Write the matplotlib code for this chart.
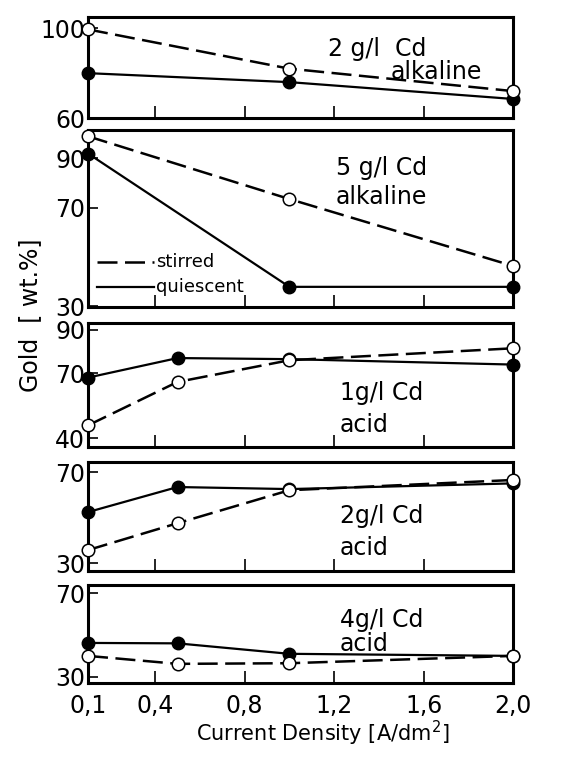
import matplotlib
matplotlib.use("Agg")
import matplotlib.pyplot as plt

# current density [A/dm2]
x = [0.1, 0.5, 1.0, 2.0]
x_2alk = [0.1, 1.0, 2.0]
x_5alk = [0.1, 1.0, 2.0]

# gold content [wt.%], open = stirred, filled = quiescent
stirred_2alk = [99.5, 82.0, 72.0]
quiet_2alk = [80.0, 76.0, 68.5]

stirred_5alk = [99.0, 73.5, 46.3]
quiet_5alk = [92.0, 37.8, 37.8]

stirred_1acid = [46.0, 66.0, 76.0, 81.5]
quiet_1acid = [68.0, 77.0, 76.5, 74.0]

stirred_2acid = [35.7, 47.5, 62.0, 66.5]
quiet_2acid = [52.4, 63.4, 62.5, 65.0]

stirred_4acid = [40.0, 36.2, 36.5, 40.0]
quiet_4acid = [46.2, 46.0, 41.0, 40.0]

panels = [
    dict(xs=x_2alk, st=stirred_2alk, qu=quiet_2alk, ylim=(60, 105), yt=[60, 100],
         l1="2 g/l  Cd", l2="alkaline", p1=(0.68, 0.68), p2=(0.82, 0.46)),
    dict(xs=x_5alk, st=stirred_5alk, qu=quiet_5alk, ylim=(29.6, 101.5), yt=[30, 70, 90],
         l1="5 g/l Cd", l2="alkaline", p1=(0.69, 0.785), p2=(0.69, 0.62)),
    dict(xs=x, st=stirred_1acid, qu=quiet_1acid, ylim=(36, 93), yt=[40, 70, 90],
         l1="1g/l Cd", l2="acid", p1=(0.69, 0.44), p2=(0.65, 0.18)),
    dict(xs=x, st=stirred_2acid, qu=quiet_2acid, ylim=(26.5, 74.4), yt=[30, 70],
         l1="2g/l Cd", l2="acid", p1=(0.69, 0.50), p2=(0.65, 0.21)),
    dict(xs=x, st=stirred_4acid, qu=quiet_4acid, ylim=(27, 73.8), yt=[30, 70],
         l1="4g/l Cd", l2="acid", p1=(0.69, 0.64), p2=(0.65, 0.40)),
]

# axes boxes in figure fractions (left, bottom, width, height)
boxes = [
    (0.150, 0.8445, 0.724, 0.133),
    (0.150, 0.5955, 0.724, 0.233),
    (0.150, 0.411, 0.724, 0.163),
    (0.150, 0.2477, 0.724, 0.1436),
    (0.150, 0.100, 0.724, 0.129),
]

fig = plt.figure(figsize=(5.87, 7.59), dpi=100)
plt.rcParams['font.family'] = ['DejaVu Sans']

for i, (p, b) in enumerate(zip(panels, boxes)):
    ax = fig.add_axes(b)
    ax.plot(p['xs'], p['qu'], color='black', lw=1.6, marker='o', ms=9,
            mfc='black', mec='black', zorder=3, clip_on=False)
    ax.plot(p['xs'], p['st'], color='black', lw=1.8, dashes=(8, 3), marker='o', ms=9,
            mfc='white', mec='black', mew=1.1, zorder=4, clip_on=False)
    ax.set_xlim(0.1, 2.0)
    ax.set_ylim(*p['ylim'])
    ax.set_yticks(p['yt'])
    ax.set_yticklabels([str(v) for v in p['yt']], fontsize=17)
    ax.set_xticks([0.4, 0.8, 1.2, 1.6])
    ax.tick_params(axis='x', direction='in', length=9, width=1.2)
    ax.tick_params(axis='y', direction='in', length=7, width=1.2, pad=2)
    if i < 4:
        ax.set_xticklabels([])
    for s in ax.spines.values():
        s.set_linewidth(2.2)
    ax.text(p['p1'][0], p['p1'][1], p['l1'], transform=ax.transAxes,
            fontsize=17, ha='center', va='center')
    ax.text(p['p2'][0], p['p2'][1], p['l2'], transform=ax.transAxes,
            fontsize=17, ha='center', va='center')
    if i == 1:
        # hand drawn legend inside the 5 g/l panel
        ax.plot([0.02, 0.155], [0.256, 0.256], color='black', lw=1.8, dashes=(8, 3),
                transform=ax.transAxes)
        ax.plot([0.02, 0.155], [0.114, 0.114], color='black', lw=1.6,
                transform=ax.transAxes)
        ax.text(0.16, 0.256, "stirred", fontsize=13, va='center', transform=ax.transAxes)
        ax.text(0.16, 0.114, "quiescent", fontsize=13, va='center', transform=ax.transAxes)
    if i == 4:
        ax.set_xticks([0.1, 0.4, 0.8, 1.2, 1.6, 2.0])
        ax.set_xticklabels(["0,1", "0,4", "0,8", "1,2", "1,6", "2,0"], fontsize=17)
        ax.tick_params(axis='x', pad=8)
        # no tick marks at the frame edges
        ax.xaxis.get_major_ticks()[0].tick1line.set_visible(False)
        ax.xaxis.get_major_ticks()[-1].tick1line.set_visible(False)

fig.text(0.052, 0.585, "Gold  [ wt.%]", rotation=90, fontsize=17, ha='center', va='center')
fig.text(0.55, 0.034, "Current Density [A/dm$^2$]", fontsize=15, ha='center', va='center')

fig.savefig("out.png", dpi=100, facecolor='white')
